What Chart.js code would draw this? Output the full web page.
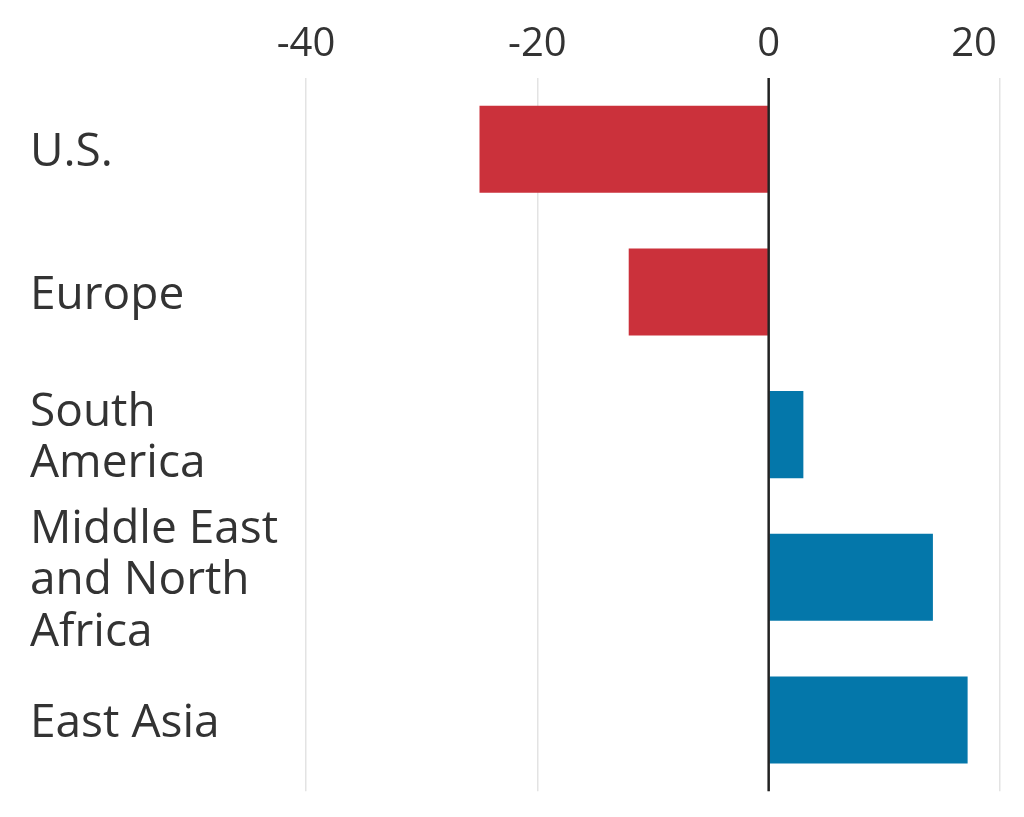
<!DOCTYPE html>
<html><head><meta charset="utf-8">
<script src="https://cdn.jsdelivr.net/npm/chart.js@4/dist/chart.umd.min.js"></script>
<style>html,body{margin:0;padding:0;background:#fff;overflow:hidden}</style>
</head><body>
<canvas id="c" width="1024" height="817" style="width:1024px;height:817px;display:block"></canvas>
<script>
const categories = [["U.S."], ["Europe"], ["South", "America"], ["Middle East", "and North", "Africa"], ["East Asia"]];
const values = [-25.0, -12.1, 3.0, 14.2, 17.2];
const xTicks = [-40, -20, 0, 20];
const negColor = '#cb313b';
const posColor = '#0477aa';

const zeroLine = {
  id: 'zeroLine',
  afterDatasetsDraw(chart) {
    const x = chart.scales.x.getPixelForValue(0);
    const {top, bottom} = chart.chartArea;
    const ctx = chart.ctx;
    ctx.save();
    ctx.strokeStyle = '#222';
    ctx.lineWidth = 2.5;
    ctx.beginPath();
    ctx.moveTo(x, top);
    ctx.lineTo(x, bottom);
    ctx.stroke();
    ctx.restore();
  }
};

new Chart(document.getElementById('c'), {
  type: 'bar',
  data: {
    labels: categories,
    datasets: [{
      data: values,
      backgroundColor: values.map(v => v < 0 ? negColor : posColor),
      borderWidth: 0,
      barPercentage: 0.61,
      categoryPercentage: 1
    }]
  },
  options: {
    indexAxis: 'y',
    responsive: false,
    animation: false,
    devicePixelRatio: 1,
    layout: {padding: {left: 30, right: 24, top: 12, bottom: 25}},
    plugins: {legend: {display: false}, tooltip: {enabled: false}},
    scales: {
      x: {
        position: 'top',
        min: -40, max: 20,
        afterBuildTicks: s => { s.ticks = xTicks.map(v => ({value: v})); },
        afterFit: s => { s.paddingRight = 0; s.paddingLeft = 0; },
        grid: {drawTicks: false, color: '#e3e3e3', lineWidth: 1.5},
        border: {display: false},
        ticks: {padding: 9, color: '#333', font: {family: 'Open Sans', size: 40},
          callback: (v, i, t) => i === t.length - 1 ? v + '\u0020\u0020\u0020\u0020\u0020' : String(v)}
      },
      y: {
        grid: {display: false},
        border: {display: false},
        afterFit: s => { s.width = 276; },
        ticks: {crossAlign: 'far', padding: 0, autoSkip: false, labelOffset: 4, color: '#333',
          font: {family: 'Open Sans', size: 46, lineHeight: 1.12}}
      }
    }
  },
  plugins: [zeroLine]
});
</script>
</body></html>
